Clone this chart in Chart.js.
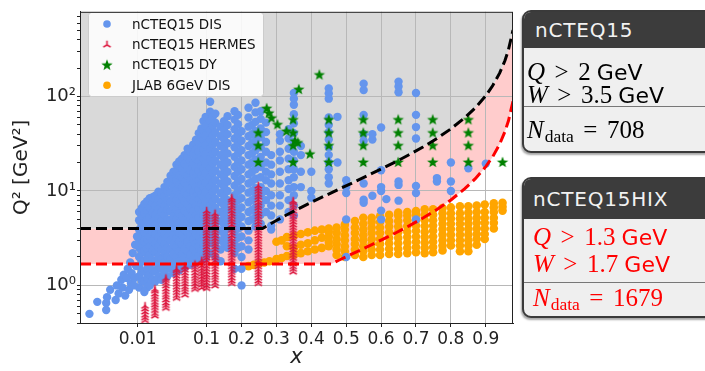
<!DOCTYPE html>
<html>
<head>
<meta charset="utf-8">
<script src="https://cdn.jsdelivr.net/npm/chart.js@4.4.1/dist/chart.umd.min.js"></script>
<style>
body{margin:0;width:705px;height:371px;overflow:hidden;background:#fff;position:relative;font-family:"DejaVu Sans",sans-serif;}
#wrap{position:absolute;left:0;top:0;width:520px;height:371px;}
.box{position:absolute;left:522px;width:200px;border:2px solid #3a3a3a;border-radius:9px;background:#efefef;overflow:hidden;box-shadow:-1px 2px 2px rgba(0,0,0,.35);box-sizing:border-box;}
.head{position:absolute;left:0;top:0;right:0;background:#3c3c3c;color:#f2f2f2;font-size:20px;letter-spacing:.8px;padding-left:11px;box-sizing:border-box;}
.ln{position:absolute;left:0;right:0;height:28px;line-height:28px;white-space:nowrap;font-family:"Liberation Serif",serif;font-size:25px;}
.sep{position:absolute;left:0;right:0;height:0;border-top:1.5px solid #777;}
.m{font-style:italic}
.op{margin:0 .38em}
.u{font-family:"DejaVu Sans",sans-serif;font-size:22px;margin-left:.28em}
.sb{font-size:.7em;position:relative;top:.25em;margin-left:1px}
</style>
</head>
<body>
<div id="wrap"><canvas id="c" width="520" height="371"></canvas></div>

<div class="box" style="top:10px;height:143px">
  <div class="head" style="height:36px;line-height:36px">nCTEQ15</div>
  <div class="ln" style="top:46px;padding-left:3px"><span class="m">Q</span><span class="op">&gt;</span>2<span class="u">GeV</span></div>
  <div class="ln" style="top:69px;padding-left:3px"><span class="m">W</span><span class="op">&gt;</span>3.5<span class="u">GeV</span></div>
  <div class="sep" style="top:94px"></div>
  <div class="ln" style="top:104px;padding-left:3px"><span class="m">N</span><span class="sb">data</span><span class="op">=</span>708</div>
</div>

<div class="box" style="top:177px;height:141px">
  <div class="head" style="height:40px;line-height:40px;padding-left:9px">nCTEQ15HIX</div>
  <div class="ln" style="top:44px;padding-left:9px;color:#ff0000"><span class="m">Q</span><span class="op">&gt;</span>1.3<span class="u">GeV</span></div>
  <div class="ln" style="top:71px;padding-left:9px;color:#ff0000"><span class="m">W</span><span class="op">&gt;</span>1.7<span class="u">GeV</span></div>
  <div class="sep" style="top:103px"></div>
  <div class="ln" style="top:105px;padding-left:9px;color:#ff0000"><span class="m">N</span><span class="sb">data</span><span class="op">=</span>1679</div>
</div>

<script>
// axis ticks
const xTicks = [0.01, 0.1, 0.2, 0.3, 0.4, 0.5, 0.6, 0.7, 0.8, 0.9];
const xTickLabels = ["0.01", "0.1", "0.2", "0.3", "0.4", "0.5", "0.6", "0.7", "0.8", "0.9"];
const yMajor = [1, 10, 100];
const yMajorLabels = ["10⁰", "10¹", "10²"];
const yMinor = [0.4, 0.5, 0.6, 0.7, 0.8, 0.9, 2, 3, 4, 5, 6, 7, 8, 9, 20, 30, 40, 50, 60, 70, 80, 90, 200, 300, 400, 500, 600, 700];

// nCTEQ15 DIS: columns [x, Q2 values]
const disCols = [
  [0.0105, [0.95, 1.25, 1.6, 2.0, 2.5, 3.1, 3.9, 4.9, 6.0]],
  [0.0115, [1.1, 1.4, 1.8, 2.25, 2.8, 3.5, 4.4, 5.5, 6.6]],
  [0.0125, [0.85, 1.1, 1.4, 1.8, 2.3, 2.9, 3.6, 4.6, 5.8, 7.3]],
  [0.0137, [0.95, 1.2, 1.5, 1.95, 2.45, 3.1, 3.9, 4.9, 6.2, 7.8]],
  [0.015, [1.0, 1.3, 1.65, 2.1, 2.6, 3.3, 4.2, 5.3, 6.7, 8.4]],
  [0.0165, [1.15, 1.45, 1.85, 2.35, 2.95, 3.7, 4.7, 5.9, 7.5, 8.6]],
  [0.018, [1.1, 1.4, 1.8, 2.25, 2.8, 3.5, 4.4, 5.6, 7.0, 8.9]],
  [0.02, [1.25, 1.6, 2.0, 2.55, 3.2, 4.0, 5.1, 6.4, 8.1, 9.8]],
  [0.022, [1.15, 1.5, 1.9, 2.4, 3.0, 3.8, 4.8, 6.0, 7.6, 9.6]],
  [0.0245, [1.35, 1.75, 2.2, 2.75, 3.5, 4.4, 5.6, 7.0, 8.8, 11]],
  [0.027, [1.25, 1.6, 2.0, 2.5, 3.2, 4.0, 5.0, 6.3, 8.0, 10, 12.5]],
  [0.03, [1.5, 1.9, 2.4, 3.0, 3.8, 4.8, 6.1, 7.6, 9.6, 12, 14.5]],
  [0.033, [1.35, 1.7, 2.15, 2.7, 3.4, 4.3, 5.4, 6.8, 8.6, 10.8, 13.6, 16]],
  [0.0365, [1.6, 2.0, 2.55, 3.2, 4.0, 5.1, 6.4, 8.1, 10.2, 12.9, 16.3, 19]],
  [0.04, [1.45, 1.8, 2.3, 2.9, 3.6, 4.6, 5.8, 7.3, 9.2, 11.6, 14.6, 18.4, 20.5]],
  [0.044, [1.7, 2.15, 2.7, 3.4, 4.3, 5.4, 6.9, 8.7, 11, 13.8, 17.4, 22]],
  [0.048, [1.55, 1.95, 2.45, 3.1, 3.9, 4.9, 6.2, 7.8, 9.8, 12.3, 15.5, 19.5, 24]],
  [0.053, [1.8, 2.3, 2.9, 3.65, 4.6, 5.8, 7.3, 9.2, 11.6, 14.6, 18.4, 23, 28]],
  [0.058, [1.65, 2.1, 2.6, 3.3, 4.1, 5.2, 6.5, 8.2, 10.3, 13, 16.4, 20.6, 26]],
  [0.064, [1.9, 2.45, 3.1, 3.9, 4.9, 6.2, 7.8, 9.8, 12.4, 15.6, 19.6, 24.7, 31]],
  [0.07, [1.75, 2.2, 2.8, 3.5, 4.4, 5.5, 7.0, 8.8, 11, 13.9, 17.5, 22, 27.7, 35]],
  [0.077, [2.05, 2.6, 3.3, 4.1, 5.2, 6.5, 8.2, 10.3, 13, 16.4, 20.7, 26, 32.8, 41]],
  [0.084, [1.85, 2.3, 2.9, 3.7, 4.6, 5.8, 7.3, 9.2, 11.6, 14.6, 18.4, 23, 29, 36.5, 46]],
  [0.09, [2.2, 2.75, 3.5, 4.4, 5.5, 6.9, 8.7, 11, 13.8, 17.4, 21.9, 27.6, 34.8, 44, 55]],
  [0.097, [1.95, 2.45, 3.1, 3.9, 4.9, 6.1, 7.7, 9.7, 12.2, 15.4, 19.4, 24.4, 30.7, 38.7, 48.7, 61]],
  [0.11, [2.2, 2.8, 3.5, 4.4, 5.5, 7.0, 8.8, 11, 14, 17.5, 22, 28, 35, 44, 55, 69, 88]],
  [0.118, [3.1, 3.9, 4.9, 6.2, 7.8, 9.8, 12.4, 15.6, 19.6, 24.7, 31, 39, 49, 62]],
  [0.125, [2.0, 2.6, 3.3, 4.2, 5.2, 6.6, 8.3, 10.5, 13, 16.5, 21, 26, 33, 42, 53, 66]],
  [0.14, [1.8, 2.4, 3.0, 3.8, 4.8, 6.0, 7.6, 9.5, 12, 15, 19, 24, 30, 38, 48]],
  [0.15, [2.8, 3.5, 4.4, 5.5, 7.0, 8.8, 11, 14, 17.5, 22, 28, 35, 44, 55]],
  [0.16, [2.5, 3.1, 4.0, 5.0, 6.3, 8.0, 10, 12.6, 16, 20, 25, 32, 40, 50, 62]],
  [0.18, [1.5, 2.2, 2.8, 3.6, 4.5, 5.7, 7.2, 9.0, 11.4, 14.4, 18, 23, 29, 36, 45, 57, 70]],
  [0.19, [2.5, 3.2, 4.0, 5.0, 6.3, 8.0, 10, 12.6, 16, 20, 25, 32, 40, 51, 64]],
  [0.2, [1.0, 1.5, 2.0, 2.6, 3.3, 4.2, 5.3, 6.7, 8.4, 10.6, 13.4, 17, 21, 27, 34, 43]],
  [0.22, [2.4, 3.0, 3.8, 4.8, 6.0, 7.6, 9.6, 12, 15, 19, 24, 30, 38, 48, 60, 76]],
  [0.23, [5.0, 6.3, 8.0, 10, 12.6, 16, 20, 25, 32, 40, 50]],
  [0.24, [4.2, 5.3, 6.7, 8.5, 10.7, 13.5, 17, 21.5, 27, 34, 43, 54, 68, 86]],
  [0.255, [4.5, 5.6, 7.0, 9.0, 11, 14, 18, 23, 29, 37, 46, 58, 70]],
  [0.27, [6.0, 8.0, 10, 13, 16, 20, 26, 33, 42, 53]],
  [0.285, [3.9, 4.3, 5.5, 7.0, 9.0, 12, 15, 19, 24]],
  [0.31, [5.0, 7.0, 9.0, 12, 16, 21, 26, 34, 40]],
  [0.335, [6.0, 8.0, 10.5, 13, 17, 22, 28, 36, 45]],
  [0.35, [5.5, 7.0, 9.0, 11, 14, 17, 21, 26, 33, 41, 52, 65, 82, 95, 109]],
  [0.37, [11, 16, 24, 30]],
  [0.4, [8.5, 10, 16]],
  [0.45, [12, 14, 17, 20, 24, 29, 35, 42, 50, 60, 95, 108, 122]],
  [0.475, [20, 61]],
  [0.5, [2.0, 5.0, 9.5, 11, 13]],
  [0.55, [7.5, 8.1, 12, 34, 40, 64, 117, 137]],
  [0.575, [8.9, 35, 40]],
  [0.6, [5.0, 6.2, 10, 11, 16.6, 47]],
  [0.615, [8.2]],
  [0.65, [7.9, 11.6, 12.6, 111, 128, 144]],
  [0.7, [5.0, 9.5, 11.3, 36, 47.5, 64, 109]],
  [0.76, [12.6, 13.7]],
  [0.8, [10, 12.6, 20]],
  [0.85, [17.4]],
  [0.9, [19.5]]
];
const disLowX = [0.002, 0.0026, 0.0035, 0.0035, 0.0036, 0.004, 0.0048, 0.005, 0.0053, 0.0058, 0.006, 0.0063, 0.0066, 0.007, 0.0072, 0.0075, 0.0078, 0.008, 0.0082, 0.0085, 0.0088, 0.009, 0.0092, 0.0095, 0.0098];
const disLowQ2 = [0.5, 0.67, 0.55, 0.65, 0.75, 0.9, 0.7, 1.0, 0.82, 1.15, 0.95, 1.3, 0.78, 1.2, 1.5, 0.9, 1.75, 1.05, 1.35, 2.2, 1.0, 1.2, 2.7, 1.6, 3.3];

// nCTEQ15 HERMES
const hermesTall = [0.94, 1.0, 1.07, 1.15, 1.23, 1.31, 1.4, 1.5, 1.61, 1.72, 1.84, 1.97, 2.1, 2.25, 2.41, 2.58, 2.76, 2.95, 3.16, 3.38, 3.62, 3.87, 4.14, 4.43, 4.74, 5.07, 5.43, 5.81, 6.2];
const hermesCols = [
  [0.0128, [0.43, 0.46, 0.49, 0.53, 0.57, 0.61]],
  [0.0178, [0.48, 0.51, 0.55, 0.59, 0.63, 0.67, 0.72, 0.77, 0.82, 0.88, 0.92]],
  [0.0257, [0.58, 0.62, 0.66, 0.71, 0.76, 0.81, 0.87, 0.93, 1.0, 1.07, 1.14, 1.2]],
  [0.0367, [0.74, 0.79, 0.85, 0.91, 0.97, 1.04, 1.11, 1.19, 1.27, 1.36, 1.45, 1.5]],
  [0.0485, [0.8, 0.86, 0.92, 0.98, 1.05, 1.12, 1.2, 1.28, 1.37, 1.47, 1.57, 1.6]],
  [0.0677, [0.92, 0.98, 1.05, 1.12, 1.2, 1.28, 1.37, 1.47, 1.57, 1.68]],
  [0.085, [0.95, 1.02, 1.09, 1.16, 1.24, 1.33, 1.42, 1.52, 1.63, 1.75, 1.85]],
  [0.1, hermesTall],
  [0.124, hermesTall.slice(1, 28)],
  [0.172, [1.06, 1.13, 1.21, 1.3, 1.39, 1.49, 1.6, 1.71, 1.83, 1.96, 2.1, 2.25, 2.41, 2.58, 2.76, 2.95, 3.16, 3.38, 3.62, 3.87, 4.14, 4.43, 4.74, 5.07, 5.43, 5.81, 6.2, 6.65, 7.1, 7.6, 8.1, 8.5]],
  [0.248, [1.06, 1.13, 1.21, 1.3, 1.39, 1.49, 1.6, 1.71, 1.83, 1.96, 2.1, 2.25, 2.41, 2.58, 2.76, 2.95, 3.16, 3.38, 3.62, 3.87, 4.14, 4.43, 4.74, 5.07, 5.43, 5.81, 6.2, 6.65, 7.1, 7.6, 8.1, 8.7, 9.3, 10, 10.7, 11.4]],
  [0.348, [1.4, 1.5, 1.6, 1.71, 1.83, 1.96, 2.1, 2.25, 2.41, 2.58, 2.76, 2.95, 3.16, 3.38, 3.62, 3.87, 4.14, 4.43, 4.74, 5.07, 5.43, 5.81, 6.2, 6.65, 7.1, 7.6, 7.9]]
];

// nCTEQ15 DY
const dyX = [0.248, 0.248, 0.248, 0.348, 0.348, 0.348, 0.348, 0.45, 0.45, 0.45, 0.45, 0.549, 0.549, 0.549, 0.549, 0.649, 0.649, 0.649, 0.649, 0.748, 0.748, 0.748, 0.748, 0.85, 0.85, 0.85, 0.85, 0.948, 0.272, 0.2785, 0.286, 0.303, 0.329, 0.353, 0.361, 0.396, 0.364, 0.423];
const dyQ2 = [41.6, 30.5, 20.3, 57.3, 41.6, 30.5, 20.3, 57.3, 41.6, 30.5, 20.3, 57.3, 41.6, 30.5, 20.3, 57.3, 41.6, 30.5, 20.3, 57.3, 41.6, 30.5, 20.3, 57.3, 41.6, 30.5, 20.3, 20.3, 75.5, 67.3, 59.7, 50.9, 43.3, 34.0, 32.7, 24.8, 120, 171];

// JLAB 6GeV DIS
const jlabCols = [
  [0.22, [1.6]], [0.235, [1.65]], [0.25, [1.7]], [0.265, [1.75]], [0.28, [1.8]],
  [0.3, [1.9, 2.9]], [0.315, [1.95, 3.0]], [0.33, [2.05, 2.6, 3.25]], [0.35, [2.1, 2.5, 3.35]],
  [0.37, [2.2, 2.7, 3.5]], [0.39, [2.3, 2.8, 3.65]], [0.41, [2.4, 3.0, 3.8]], [0.43, [2.5, 3.2, 3.9]],
  [0.45, [2.6, 2.9, 3.3, 3.7, 4.0]],
  [0.4725, [2.1, 2.4, 2.75, 3.1, 3.6, 4.1]],
  [0.496, [2.0, 2.3, 2.6, 3.0, 3.4, 3.9, 4.4]],
  [0.525, [2.1, 2.4, 2.75, 3.1, 3.6, 4.1, 4.8]],
  [0.549, [2.0, 2.3, 2.6, 3.0, 3.4, 3.9, 4.5, 5.2]],
  [0.573, [2.1, 2.4, 2.75, 3.1, 3.6, 4.1, 4.7, 5.2]],
  [0.597, [2.1, 2.4, 2.75, 3.1, 3.6, 4.1, 4.7, 5.4]],
  [0.623, [2.15, 2.45, 2.8, 3.2, 3.65, 4.2, 4.8, 5.6]],
  [0.649, [2.15, 2.45, 2.8, 3.2, 3.65, 4.2, 4.8, 5.5, 5.9]],
  [0.675, [2.2, 2.5, 2.85, 3.25, 3.7, 4.25, 4.9, 5.5, 6.0]],
  [0.7, [2.25, 2.55, 2.9, 3.3, 3.8, 4.3, 4.9, 5.6, 6.15]],
  [0.725, [2.2, 2.5, 2.85, 3.25, 3.7, 4.25, 4.9, 5.6, 6.4]],
  [0.749, [2.25, 2.55, 2.9, 3.3, 3.8, 4.3, 4.9, 5.6, 6.4]],
  [0.776, [2.35, 2.65, 3.0, 3.45, 3.95, 4.5, 5.1, 5.8, 6.6]],
  [0.8, [2.65, 3.0, 3.45, 3.95, 4.5, 5.1, 5.8, 6.7]],
  [0.826, [2.3, 2.65, 3.0, 3.45, 3.95, 4.5, 5.1, 5.8, 6.9]],
  [0.85, [2.3, 2.65, 3.0, 3.45, 3.95, 4.5, 5.1, 5.9, 6.9]],
  [0.874, [2.7, 3.1, 3.5, 4.0, 4.6, 5.2, 6.0, 7.0]],
  [0.897, [3.1, 3.5, 4.0, 4.6, 5.2, 6.0, 7.2]],
  [0.923, [4.0, 4.6, 5.2, 6.0, 6.7, 7.4]],
  [0.948, [6.2, 6.8, 7.5]]
];

// kinematic cuts: nCTEQ15 (black) and nCTEQ15HIX (red)
const cut15X = [0.00146, 0.26, 0.28, 0.3, 0.33, 0.36, 0.4, 0.44, 0.48, 0.52, 0.56, 0.6, 0.64, 0.68, 0.72, 0.76, 0.8, 0.84, 0.87, 0.9, 0.92, 0.94, 0.955, 0.965, 0.978];
const cut15Q2 = [4, 4, 4.42, 4.87, 5.6, 6.4, 7.58, 8.93, 10.5, 12.3, 14.5, 17.1, 20.2, 24.2, 29.2, 36, 45.5, 59.7, 76, 102, 131, 178, 241, 313, 505];
const cutHixX = [0.00146, 0.457, 0.48, 0.52, 0.56, 0.6, 0.64, 0.68, 0.72, 0.76, 0.8, 0.84, 0.87, 0.9, 0.92, 0.94, 0.955, 0.965, 0.978];
const cutHixQ2 = [1.69, 1.69, 1.86, 2.18, 2.56, 3.02, 3.57, 4.27, 5.17, 6.37, 8.04, 10.6, 13.5, 18.1, 23.1, 31.5, 42.7, 55.4, 89.4];

// x axis: log below 0.1, linear above
const K = 349 / 69;
function tx(v) { return v <= 0.1 ? Math.log10(v / 0.1) : (v - 0.1) * K; }
function itx(t) { return t <= 0 ? 0.1 * Math.pow(10, t) : 0.1 + t / K; }
class LogLinScale extends Chart.LinearScale {
  configure() {
    super.configure();
    this._t0 = tx(this.min);
    this._t1 = tx(this.max);
  }
  getPixelForValue(value) {
    if (value === null || value === undefined || isNaN(value)) return NaN;
    return this.getPixelForDecimal((tx(value) - this._t0) / (this._t1 - this._t0));
  }
  getValueForPixel(pixel) {
    return itx(this._t0 + this.getDecimalForPixel(pixel) * (this._t1 - this._t0));
  }
}
LogLinScale.id = "loglin";
LogLinScale.defaults = {};
Chart.register(LogLinScale);

function fromCols(cols) {
  const pts = [];
  cols.forEach(([x, qs]) => qs.forEach(q => pts.push({ x, y: q })));
  return pts;
}
function fromPairs(xs, ys) { return xs.map((x, i) => ({ x, y: ys[i] })); }

function triMarker(color) {
  const c = document.createElement("canvas");
  c.width = 11; c.height = 11;
  const g = c.getContext("2d");
  g.strokeStyle = color; g.lineWidth = 1.5;
  const cx = 5.5, cy = 6, r = 4.3;
  g.beginPath();
  g.moveTo(cx, cy); g.lineTo(cx, cy - r);
  g.moveTo(cx, cy); g.lineTo(cx - r * 0.866, cy + r * 0.5);
  g.moveTo(cx, cy); g.lineTo(cx + r * 0.866, cy + r * 0.5);
  g.stroke();
  return c;
}
function starMarker(color) {
  const c = document.createElement("canvas");
  c.width = 14; c.height = 14;
  const g = c.getContext("2d");
  g.fillStyle = color;
  g.beginPath();
  for (let i = 0; i < 10; i++) {
    const r = i % 2 ? 2.5 : 6;
    const a = -Math.PI / 2 + i * Math.PI / 5;
    const px = 7 + r * Math.cos(a), py = 7.5 + r * Math.sin(a);
    i ? g.lineTo(px, py) : g.moveTo(px, py);
  }
  g.closePath();
  g.fill();
  return c;
}
const tri = triMarker("#dc143c");
const star = starMarker("#008000");

const legendBox = {
  id: "legendBox",
  afterDatasetsDraw(chart) {
    const ctx = chart.ctx;
    ctx.save();
    ctx.beginPath();
    ctx.roundRect(88.5, 12.5, 175, 84, 3);
    ctx.fillStyle = "rgba(255,255,255,0.85)";
    ctx.fill();
    ctx.strokeStyle = "#cccccc";
    ctx.lineWidth = 1;
    ctx.stroke();
    ctx.font = "13.5px 'DejaVu Sans'";
    ctx.textBaseline = "middle";
    chart.data.datasets.slice(0, 4).forEach((ds, i) => {
      const y = 24 + i * 20.4;
      if (ds.pointStyle === "circle") {
        ctx.beginPath(); ctx.arc(107, y, 3.8, 0, Math.PI * 2);
        ctx.fillStyle = ds.backgroundColor; ctx.fill();
      } else {
        ctx.drawImage(ds.pointStyle, 107 - ds.pointStyle.width / 2, y - ds.pointStyle.height / 2);
      }
      ctx.fillStyle = "#111";
      ctx.fillText(ds.label, 132, y + 1);
    });
    ctx.restore();
  },
  afterDraw(chart) {
    const a = chart.chartArea, ctx = chart.ctx;
    ctx.save();
    ctx.strokeStyle = "#222";
    ctx.lineWidth = 1;
    ctx.strokeRect(a.left + 0.5, a.top + 0.5, a.right - a.left - 1, a.bottom - a.top);
    ctx.restore();
  }
};

Chart.defaults.font.family = "'DejaVu Sans', sans-serif";
Chart.defaults.color = "#222";

new Chart(document.getElementById("c"), {
  type: "scatter",
  data: {
    datasets: [
      { label: "nCTEQ15 DIS", data: fromCols(disCols).concat(fromPairs(disLowX, disLowQ2)), pointStyle: "circle", pointRadius: 4.2, backgroundColor: "#6495ed", borderWidth: 0, order: 3 },
      { label: "nCTEQ15 HERMES", data: fromCols(hermesCols), pointStyle: tri, pointRadius: 4, order: 2 },
      { label: "nCTEQ15 DY", data: fromPairs(dyX, dyQ2), pointStyle: star, pointRadius: 5, order: 1 },
      { label: "JLAB 6GeV DIS", data: fromCols(jlabCols), pointStyle: "circle", pointRadius: 4.3, backgroundColor: "#ffa500", borderWidth: 0, order: 4 },
      { type: "line", label: "cut nCTEQ15", data: fromPairs(cut15X, cut15Q2), borderColor: "#000", borderWidth: 3, borderDash: [11, 5], pointRadius: 0, tension: 0, fill: "end", backgroundColor: "#d9d9d9", order: 0 },
      { type: "line", label: "cut nCTEQ15HIX", data: fromPairs(cutHixX, cutHixQ2), borderColor: "#ff0000", borderWidth: 3, borderDash: [11, 5], pointRadius: 0, tension: 0, fill: "-1", backgroundColor: "#ffcccc", order: 0 }
    ]
  },
  options: {
    responsive: false,
    animation: false,
    events: [],
    devicePixelRatio: 1,
    layout: { padding: { top: 5, right: 7, left: 0, bottom: 0 } },
    plugins: {
      legend: { display: false },
      tooltip: { enabled: false },
      filler: { drawTime: "beforeDraw" }
    },
    scales: {
      x: {
        type: "loglin",
        min: 0.00146,
        max: 0.978,
        bounds: "data",
        afterBuildTicks: s => { s.ticks = xTicks.map(v => ({ value: v })); },
        afterFit: s => { s.height = 48; },
        ticks: {
          autoSkip: false, maxRotation: 0, padding: 2,
          font: { size: 17 },
          callback: v => xTickLabels[xTicks.indexOf(v)]
        },
        grid: { color: "#b8b8b8", tickColor: "#222", tickLength: 4 },
        border: { display: true, color: "#222" },
        title: { display: true, text: "x", font: { size: 21, style: "italic" }, padding: { top: 0, bottom: 1 } }
      },
      y: {
        type: "logarithmic",
        min: 0.4,
        max: 790,
        bounds: "data",
        afterBuildTicks: s => { s.ticks = yMinor.concat(yMajor).sort((a, b) => a - b).map(v => ({ value: v })); },
        afterFit: s => { s.width = 80; },
        ticks: {
          autoSkip: false, padding: 1,
          font: { size: 18 },
          callback: v => { const i = yMajor.indexOf(v); return i >= 0 ? yMajorLabels[i] : ""; }
        },
        grid: {
          color: c => (c.tick && yMajor.includes(c.tick.value)) ? "#b8b8b8" : "rgba(0,0,0,0)",
          tickColor: "#222", tickLength: 3
        },
        border: { display: true, color: "#222" },
        title: { display: true, text: "Q² [GeV²]", font: { size: 20 }, padding: { top: 10, bottom: 0 } }
      }
    }
  },
  plugins: [legendBox]
});
</script>
</body>
</html>
